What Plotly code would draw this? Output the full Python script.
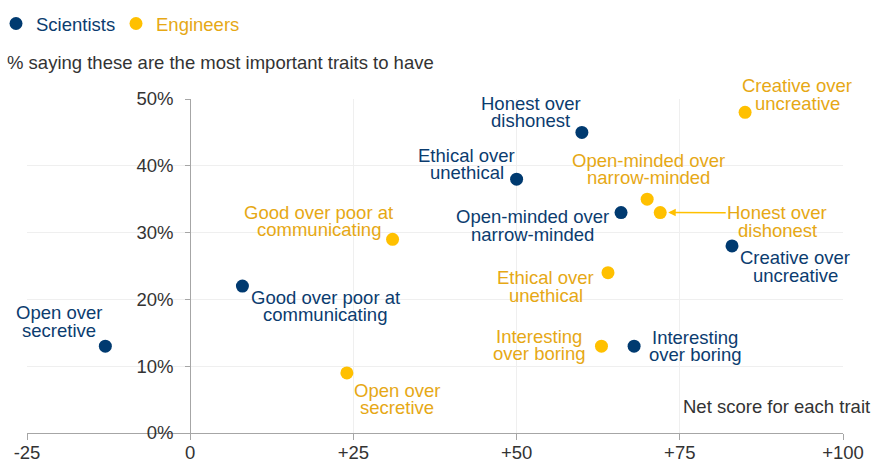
import plotly.graph_objects as go

# ---- data ----
x_tick_vals = [-25, 0, 25, 50, 75, 100]
x_tick_text = ["-25", "0", "+25", "+50", "+75", "+100"]
y_tick_vals = [0, 10, 20, 30, 40, 50]
y_tick_text = ["0%", "10%", "20%", "30%", "40%", "50%"]

sci_labels = ["Open over<br>secretive", "Good over poor at<br>communicating",
              "Ethical over<br>unethical", "Honest over<br>dishonest",
              "Open-minded over<br>narrow-minded", "Creative over<br>uncreative",
              "Interesting<br>over boring"]
sci_net = [-13, 8, 50, 60, 66, 83, 68]
sci_pct = [13, 22, 38, 45, 33, 28, 13]

eng_labels = ["Open over<br>secretive", "Good over poor at<br>communicating",
              "Ethical over<br>unethical", "Interesting<br>over boring",
              "Open-minded over<br>narrow-minded", "Honest over<br>dishonest",
              "Creative over<br>uncreative"]
eng_net = [24, 31, 64, 63, 70, 72, 85]
eng_pct = [9, 29, 24, 13, 35, 33, 48]

# ---- styling / label placement (pixel offsets of label centre from point) ----
SCI_MARK = "#003A70"
SCI_TEXT = "#0B3C6F"
ENG_MARK = "#FFC000"
ENG_TEXT = "#E6A815"
FONT = "Liberation Sans, Arial, sans-serif"
FS = 18.5
LINE_H = 17.5

sci_offsets = [(-46, -24.5), (83, 20), (-50, -15), (-51, -20.5), (-89, 13), (63, 20.5), (61, 0)]
eng_offsets = [(50, 26), (-74, -18.5), (-62, 14), (-62, -1), (1, -30), (117, 9), (52, -18)]
eng_arrow_index = 5

fig = go.Figure()
fig.add_trace(go.Scatter(
    x=sci_net, y=sci_pct, mode="markers", legend="legend",
    name=f"<span style='color:{SCI_TEXT}'>Scientists</span>",
    marker=dict(color=SCI_MARK, size=13), hoverinfo="skip"))
fig.add_trace(go.Scatter(
    x=eng_net, y=eng_pct, mode="markers", legend="legend2",
    name=f"<span style='color:{ENG_TEXT}'>Engineers</span>",
    marker=dict(color=ENG_MARK, size=13), hoverinfo="skip"))

annotations = []


def add_labels(xs, ys, labels, offsets, color, arrow_idx=None):
    for i, (x, y, lab) in enumerate(zip(xs, ys, labels)):
        dx, dy = offsets[i]
        lines = lab.split("<br>")
        n = len(lines)
        for j, line in enumerate(lines):
            ly = dy + (j - (n - 1) / 2) * LINE_H
            if arrow_idx is not None and i == arrow_idx and j == 0:
                annotations.append(dict(
                    x=x, y=y, xref="x", yref="y", text=line,
                    showarrow=True, ax=dx, ay=ly, axref="pixel", ayref="pixel",
                    arrowhead=2, arrowsize=1, arrowwidth=1.5, arrowcolor=ENG_MARK,
                    standoff=8, font=dict(family=FONT, size=FS, color=color)))
            else:
                annotations.append(dict(
                    x=x, y=y, xref="x", yref="y", text=line, showarrow=False,
                    xanchor="center", yanchor="middle", xshift=dx, yshift=-ly,
                    font=dict(family=FONT, size=FS, color=color)))


add_labels(sci_net, sci_pct, sci_labels, sci_offsets, SCI_TEXT)
add_labels(eng_net, eng_pct, eng_labels, eng_offsets, ENG_TEXT, eng_arrow_index)

annotations.append(dict(
    x=-0.027, y=1.108, xref="paper", yref="paper", xanchor="left", yanchor="middle",
    text="% saying these are the most important traits to have", showarrow=False,
    font=dict(family=FONT, size=FS, color="#333333")))
annotations.append(dict(
    x=1.0355, y=0.078, xref="paper", yref="paper", xanchor="right", yanchor="middle",
    text="Net score for each trait", showarrow=False,
    font=dict(family=FONT, size=FS, color="#333333")))

legend_common = dict(orientation="h", xref="paper", yref="paper",
                     y=(433 - 24) / 334, xanchor="left", yanchor="middle",
                     font=dict(family=FONT, size=FS), itemsizing="trace",
                     bgcolor="rgba(0,0,0,0)")

fig.update_layout(
    width=872, height=464,
    margin=dict(l=27, r=29, t=99, b=31, autoexpand=False),
    paper_bgcolor="white", plot_bgcolor="white",
    font=dict(family=FONT, size=FS, color="#333333"),
    showlegend=True,
    legend=dict(x=(-4 - 27) / 816, **legend_common),
    legend2=dict(x=(116 - 27) / 816, **legend_common),
    annotations=annotations,
    xaxis=dict(range=[-25, 100], tickvals=x_tick_vals, ticktext=x_tick_text,
               showgrid=True, gridcolor="#efefef", gridwidth=1,
               showline=True, linecolor="#a6a6a6", linewidth=1,
               ticks="outside", ticklen=6, tickcolor="#a6a6a6", automargin=False,
               zeroline=False, ticklabelstandoff=-3,
               tickfont=dict(family=FONT, size=FS, color="#333333")),
    yaxis=dict(range=[0, 50], anchor="free", position=0.2,
               tickvals=y_tick_vals, ticktext=y_tick_text,
               showgrid=True, gridcolor="#efefef", gridwidth=1,
               showline=True, linecolor="#a6a6a6", linewidth=1,
               ticks="outside", ticklen=5, tickcolor="#a6a6a6", automargin=False,
               zeroline=False, ticklabelstandoff=8,
               tickfont=dict(family=FONT, size=FS, color="#333333")),
)

fig.write_html("out.html", config={"displayModeBar": False},
               post_script="document.body.style.margin='0';document.body.style.overflow='hidden';")
